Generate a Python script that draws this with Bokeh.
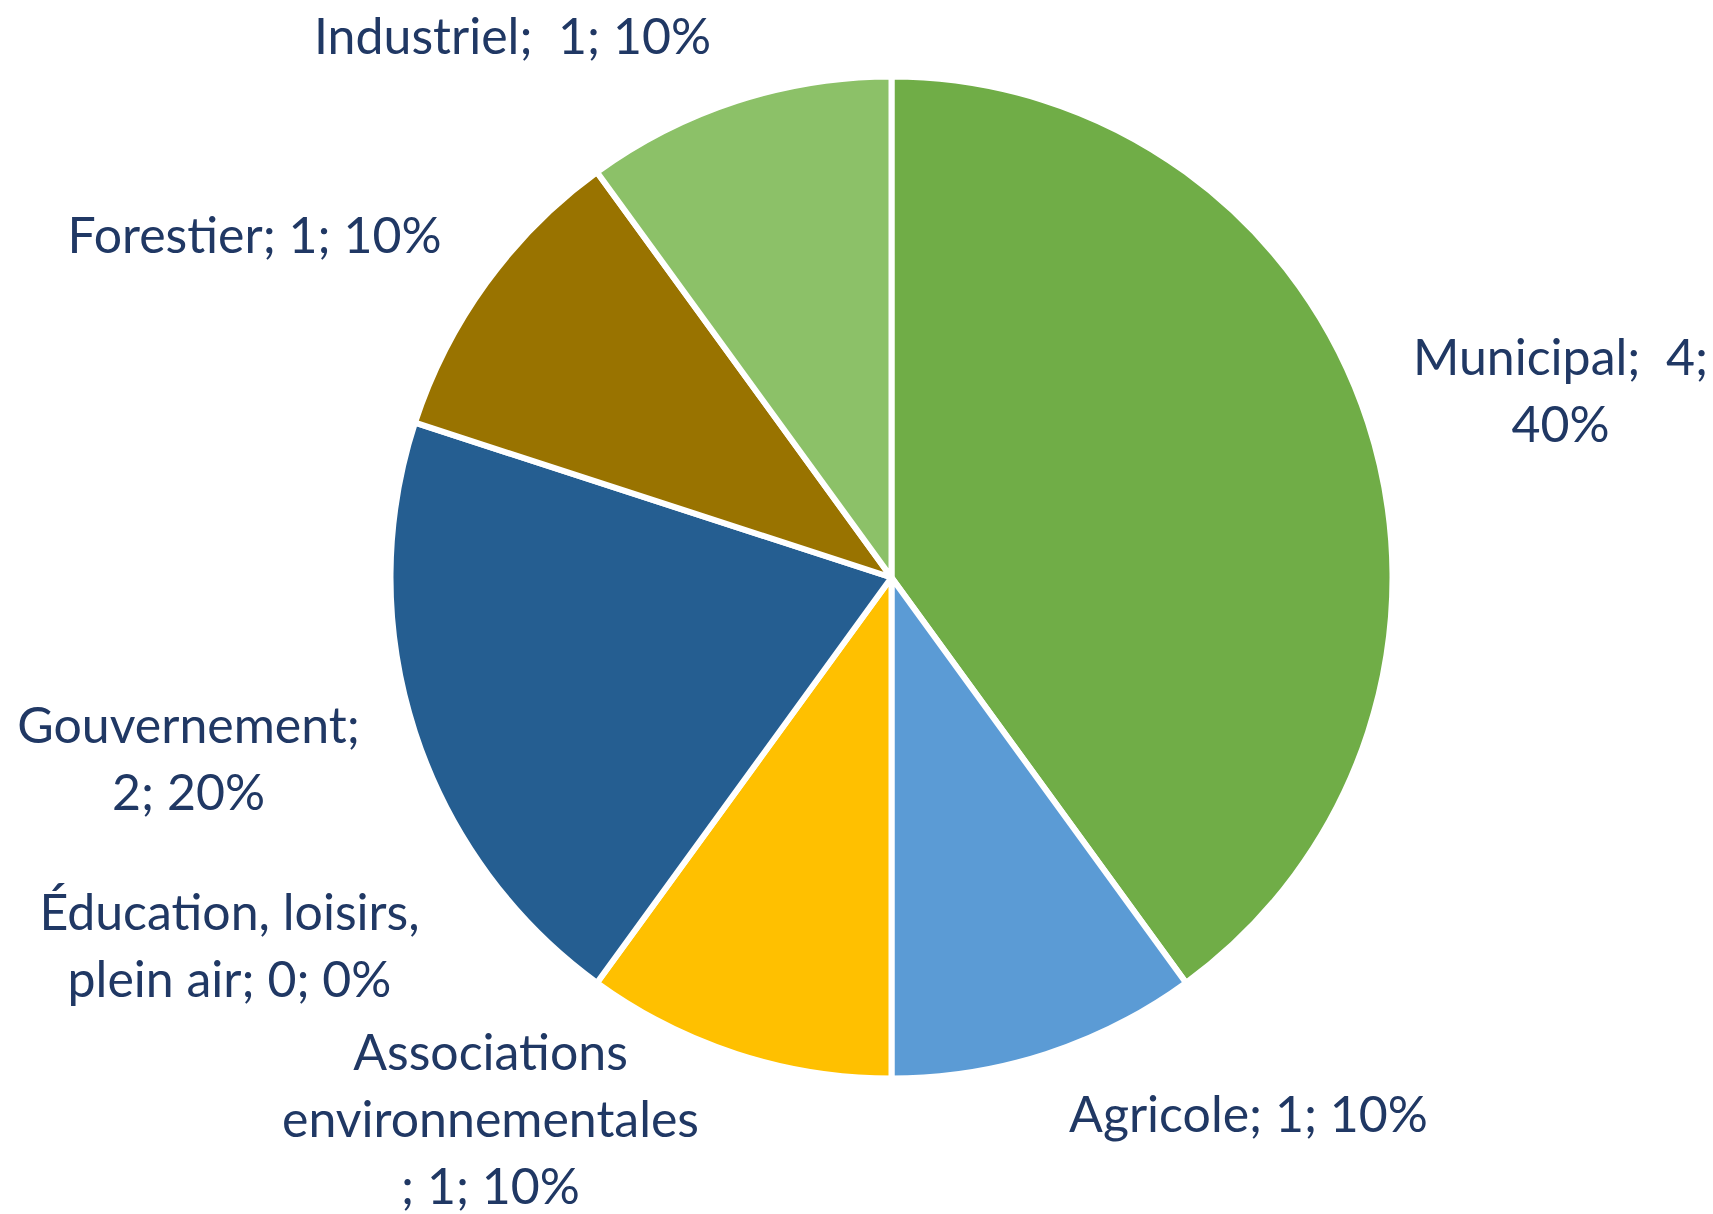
import math
from bokeh.plotting import figure
from bokeh.models import ColumnDataSource
from bokeh.core.properties import value
from bokeh.embed import file_html
from bokeh.resources import INLINE

# ---- data ----
categories = ["Municipal", "Agricole", "Associations environnementales",
              "Éducation, loisirs, plein air", "Gouvernement", "Forestier", "Industriel"]
counts = [4, 1, 1, 0, 2, 1, 1]
colors = ["#70AD47", "#5B9BD5", "#FFC000", "#ED7D31", "#255E91", "#997300", "#8CC168"]
label_lines = [
    ["Municipal;\u00a0 4;", "40%"],
    ["Agricole; 1; 10%"],
    ["Associations", "environnementales", "; 1; 10%"],
    ["Éducation, loisirs,", "plein air; 0; 0%"],
    ["Gouvernement;", "2; 20%"],
    ["Forestier; 1; 10%"],
    ["Industriel;\u00a0 1; 10%"],
]

# ---- layout (pixels, from top-left) ----
W, H = 1713, 1214
CX, CY, R = 891, 577, 501
label_anchor = [  # centre x, first baseline y
    (1560, 355),
    (1248, 1112),
    (490, 1050),
    (229, 910),
    (188, 723),
    (254, 233),
    (512, 34),
]
LINE_H = 67

total = sum(counts)
starts, ends, cols = [], [], []
cum = 0.0
for c, col in zip(counts, colors):
    a0 = cum / total
    cum += c
    a1 = cum / total
    if c > 0:
        starts.append(math.pi / 2 - 2 * math.pi * a1)
        ends.append(math.pi / 2 - 2 * math.pi * a0)
        cols.append(col)

wsrc = ColumnDataSource(dict(x=[CX] * len(starts), y=[H - CY] * len(starts),
                             start=starts, end=ends, color=cols))

tx, ty, tt = [], [], []
for lines, (ax, ay) in zip(label_lines, label_anchor):
    for i, line in enumerate(lines):
        tx.append(ax)
        ty.append(H - (ay + i * LINE_H))
        tt.append(line)
tsrc = ColumnDataSource(dict(x=tx, y=ty, text=tt))

p = figure(width=W, height=H, x_range=(0, W), y_range=(0, H),
           output_backend="svg", toolbar_location=None, min_border=0,
           match_aspect=False)
p.axis.visible = False
p.grid.visible = False
p.outline_line_color = None
p.background_fill_color = "white"

p.wedge(x="x", y="y", radius=R, start_angle="start", end_angle="end",
        fill_color="color", line_color="white", line_width=6, source=wsrc)

p.text(x="x", y="y", text="text", source=tsrc, text_align="center",
       text_baseline="alphabetic", text_font=value("Lato"),
       text_font_size="50px", text_color="#203864")

open("out.html", "w").write(file_html(p, INLINE))
